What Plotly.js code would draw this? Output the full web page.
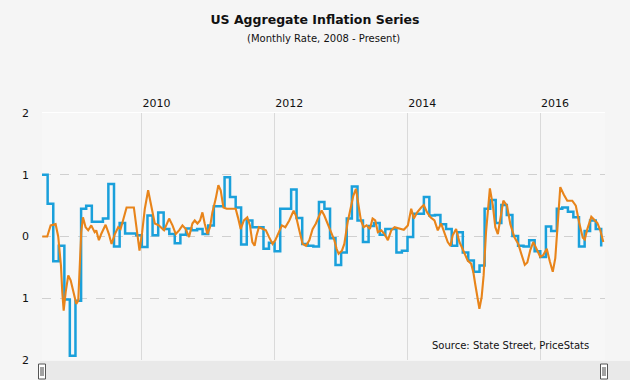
<!DOCTYPE html>
<html>
<head>
<meta charset="utf-8">
<script src="https://cdn.plot.ly/plotly-3.0.1.min.js"></script>
<style>html,body{margin:0;padding:0;background:#f5f5f5;}#chart{width:630px;height:380px;}</style>
</head>
<body>
<div id="chart"></div>
<script>
// Monthly CPI (NSA) % change, first month = Jun 2008; each value is drawn from the end of its month
const cpiFirstMonth = [2008, 6];
const cpiValues = [1.00, 0.53, -0.40, -0.15, -1.02, -1.93, -1.04, 0.45, 0.50, 0.24,
  0.24, 0.29, 0.85, -0.16, 0.22, 0.05, 0.05, 0.02, -0.17, 0.34,
  0.02, 0.39, 0.12, 0.04, -0.11, 0.03, 0.13, 0.10, 0.12, 0.04,
  0.18, 0.49, 0.49, 0.96, 0.64, 0.47, -0.13, 0.26, 0.15, 0.15,
  -0.20, -0.10, -0.24, 0.45, 0.45, 0.76, 0.30, -0.12, -0.15, -0.16,
  0.56, 0.45, -0.03, -0.46, -0.26, 0.29, 0.81, 0.26, -0.09, 0.17,
  0.22, 0.03, 0.12, 0.12, -0.26, -0.23, -0.01, 0.37, 0.37, 0.64,
  0.34, 0.35, 0.20, 0.12, -0.15, 0.07, -0.26, -0.39, -0.57, -0.47,
  0.45, 0.59, 0.22, 0.51, 0.35, 0.01, -0.15, -0.16, -0.06, -0.24,
  -0.33, 0.16, 0.09, 0.45, 0.47, 0.40, 0.31, -0.16, 0.09, 0.26,
  0.12, -0.16];

// PriceStats daily series (time as decimal year)
const psTime = [2008.501, 2008.576, 2008.627, 2008.702, 2008.741, 2008.782, 2008.802, 2008.823, 2008.853, 2008.892,
  2008.928, 2008.967, 2009.012, 2009.042, 2009.063, 2009.087, 2009.113, 2009.153, 2009.192, 2009.238,
  2009.289, 2009.313, 2009.353, 2009.388, 2009.454, 2009.504, 2009.544, 2009.594, 2009.644, 2009.680,
  2009.704, 2009.770, 2009.880, 2009.905, 2009.940, 2009.965, 2010.005, 2010.045, 2010.095, 2010.146,
  2010.195, 2010.256, 2010.286, 2010.335, 2010.411, 2010.462, 2010.511, 2010.561, 2010.612, 2010.662,
  2010.711, 2010.762, 2010.797, 2010.838, 2010.877, 2010.913, 2010.947, 2010.988, 2011.027, 2011.063,
  2011.113, 2011.153, 2011.188, 2011.229, 2011.278, 2011.338, 2011.414, 2011.448, 2011.489, 2011.538,
  2011.589, 2011.629, 2011.665, 2011.699, 2011.729, 2011.764, 2011.815, 2011.869, 2011.917, 2011.970,
  2012.011, 2012.060, 2012.110, 2012.161, 2012.221, 2012.286, 2012.320, 2012.371, 2012.421, 2012.471,
  2012.522, 2012.571, 2012.621, 2012.672, 2012.707, 2012.747, 2012.797, 2012.847, 2012.898, 2012.932,
  2012.962, 2013.012, 2013.048, 2013.098, 2013.147, 2013.183, 2013.223, 2013.263, 2013.298, 2013.338,
  2013.383, 2013.433, 2013.474, 2013.514, 2013.553, 2013.605, 2013.654, 2013.704, 2013.755, 2013.805,
  2013.880, 2013.944, 2014.005, 2014.056, 2014.095, 2014.146, 2014.206, 2014.245, 2014.296, 2014.346,
  2014.406, 2014.456, 2014.507, 2014.556, 2014.606, 2014.647, 2014.681, 2014.732, 2014.782, 2014.817,
  2014.857, 2014.907, 2014.958, 2014.992, 2015.023, 2015.057, 2015.083, 2015.117, 2015.147, 2015.183,
  2015.218, 2015.241, 2015.286, 2015.323, 2015.361, 2015.398, 2015.444, 2015.499, 2015.549, 2015.609,
  2015.669, 2015.714, 2015.767, 2015.805, 2015.850, 2015.895, 2015.947, 2016.000, 2016.045, 2016.098,
  2016.143, 2016.188, 2016.226, 2016.256, 2016.301, 2016.353, 2016.406, 2016.481, 2016.534, 2016.586,
  2016.639, 2016.669, 2016.707, 2016.767, 2016.812, 2016.857, 2016.902, 2016.947];
const psValues = [0.00, 0.00, 0.18, 0.20, 0.00, -0.47, -0.90, -1.20, -0.90, -0.63,
  -0.71, -0.90, -1.09, -1.04, -0.58, 0.07, 0.31, 0.15, 0.10, 0.18,
  0.07, 0.10, -0.06, 0.04, 0.19, 0.04, -0.12, 0.04, 0.15, 0.12,
  0.21, 0.47, 0.47, 0.26, -0.09, -0.23, 0.07, 0.45, 0.75, 0.45,
  0.21, 0.18, 0.15, 0.10, 0.29, 0.18, 0.04, 0.10, 0.18, 0.12,
  -0.01, 0.21, 0.26, 0.21, 0.26, 0.39, 0.21, 0.04, 0.15, 0.39,
  0.61, 0.83, 0.75, 0.47, 0.45, 0.45, 0.45, 0.31, 0.12, 0.26,
  0.31, 0.18, -0.09, -0.15, 0.02, 0.15, 0.12, 0.10, -0.01, -0.12,
  -0.06, 0.07, 0.18, 0.15, 0.26, 0.42, 0.34, 0.10, -0.12, -0.15,
  -0.06, 0.12, 0.21, 0.34, 0.42, 0.34, 0.21, 0.07, -0.06, -0.20,
  -0.28, -0.23, -0.12, 0.23, 0.47, 0.66, 0.77, 0.50, 0.26, 0.15,
  0.18, 0.12, 0.29, 0.26, 0.07, 0.10, 0.04, -0.06, 0.10, 0.15,
  0.13, 0.11, 0.18, 0.45, 0.29, 0.39, 0.47, 0.51, 0.39, 0.31,
  0.26, 0.10, 0.21, 0.07, -0.09, -0.15, 0.02, 0.12, -0.09, -0.17,
  -0.28, -0.39, -0.44, -0.58, -0.79, -1.01, -1.17, -0.98, -0.63, 0.07,
  0.56, 0.78, 0.50, 0.15, 0.04, 0.26, 0.58, 0.50, 0.20, -0.01,
  -0.12, -0.28, -0.46, -0.42, -0.22, -0.09, -0.20, -0.33, -0.30, -0.20,
  -0.40, -0.57, -0.35, 0.10, 0.80, 0.68, 0.58, 0.58, 0.50, 0.22,
  -0.02, -0.05, 0.12, 0.32, 0.27, 0.22, 0.10, -0.09];

const yTickVals = [2, 1, 0, -1, -2];
const yTickText = ['2', '1', '0', '1', '2'];
const titleText = 'US Aggregate Inflation Series';
const subtitleText = '(Monthly Rate, 2008 - Present)';
const sourceText = 'Source: State Street, PriceStats';

function pad(n){return (n<10?'0':'')+n;}
function isoDate(d){return d.getUTCFullYear()+'-'+pad(d.getUTCMonth()+1)+'-'+pad(d.getUTCDate())+' '+pad(d.getUTCHours())+':00';}
// value for month m is drawn starting at the first day of month m+1
const cpiDates = cpiValues.map((v,i)=>isoDate(new Date(Date.UTC(cpiFirstMonth[0], cpiFirstMonth[1]-1+1+i, 1))));
function decYearToDate(t){
  const y = Math.floor(t);
  const a = Date.UTC(y,0,1), b = Date.UTC(y+1,0,1);
  return isoDate(new Date(a + (t-y)*(b-a)));
}
const psDates = psTime.map(decYearToDate);

const FONT = 'DejaVu Sans, Verdana, sans-serif';

const traces = [
  {x: cpiDates, y: cpiValues, type: 'scatter', mode: 'lines', line: {shape: 'hv', color: '#1aa0db', width: 2.5}, hoverinfo: 'skip', name: 'CPI'},
  {x: psDates, y: psValues, type: 'scatter', mode: 'lines', line: {color: '#e8841a', width: 2.1}, hoverinfo: 'skip', name: 'PriceStats'}
];

function px2x(p){return (p-42)/563;}
function px2y(p){return (360-p)/247;}

const shapes = [
  {type:'rect', xref:'paper', yref:'paper', x0:px2x(40), x1:px2x(632), y0:px2y(381), y1:px2y(361), fillcolor:'#e9e9e9', line:{width:0}, layer:'below'},
  {type:'line', xref:'paper', yref:'y', x0:0, x1:1, y0:0, y1:0, line:{color:'#8a8a8a', width:1, dash:'dash'}, layer:'below'},
  {type:'rect', xref:'paper', yref:'paper', x0:px2x(38.5), x1:px2x(45.5), y0:px2y(379), y1:px2y(364), fillcolor:'#ffffff', line:{color:'#555', width:1}},
  {type:'line', xref:'paper', yref:'paper', x0:px2x(41), x1:px2x(41), y0:px2y(376), y1:px2y(367), line:{color:'#444', width:1}},
  {type:'line', xref:'paper', yref:'paper', x0:px2x(43), x1:px2x(43), y0:px2y(376), y1:px2y(367), line:{color:'#444', width:1}},
  {type:'rect', xref:'paper', yref:'paper', x0:px2x(600.5), x1:px2x(607.5), y0:px2y(379), y1:px2y(364), fillcolor:'#ffffff', line:{color:'#555', width:1}},
  {type:'line', xref:'paper', yref:'paper', x0:px2x(603), x1:px2x(603), y0:px2y(376), y1:px2y(367), line:{color:'#444', width:1}},
  {type:'line', xref:'paper', yref:'paper', x0:px2x(605), x1:px2x(605), y0:px2y(376), y1:px2y(367), line:{color:'#444', width:1}}
];

const layout = {
  width: 630, height: 380,
  margin: {l: 42, r: 25, t: 113, b: 20, pad: 0},
  paper_bgcolor: '#f5f5f5', plot_bgcolor: '#f7f7f7',
  font: {family: FONT, size: 11, color: '#111'},
  showlegend: false,
  title: {text: '<b>'+titleText+'</b>', font: {family: FONT, size: 12.5, color: '#111'}, x: 0.5, xanchor: 'center', y: 1-20/380, yanchor: 'middle', yref: 'container'},
  xaxis: {
    type: 'date', range: ['2008-07-01', '2016-12-22'], side: 'top',
    tick0: '2010-01-01', dtick: 'M24', tickformat: '%Y',
    ticklabelposition: 'outside right',
    showgrid: true, gridcolor: '#dadada', gridwidth: 1,
    showline: true, linecolor: '#ffffff', linewidth: 1.5,
    ticks: '', zeroline: false, fixedrange: true,
    tickfont: {family: FONT, size: 11, color: '#111'}
  },
  yaxis: {
    range: [-2, 2], tickmode: 'array', tickvals: yTickVals, ticktext: yTickText,
    showgrid: true, gridcolor: '#d0d0d0', griddash: 'dash', gridwidth: 1,
    zeroline: false, showline: false, ticks: '', ticklabelstandoff: 12, fixedrange: true,
    tickfont: {family: FONT, size: 11, color: '#111'}
  },
  shapes: shapes,
  annotations: [
    {text: subtitleText, xref: 'paper', yref: 'paper', x: 0.5, y: px2y(38.5), xanchor: 'center', yanchor: 'middle', showarrow: false, font: {family: FONT, size: 10, color: '#111'}},
    {text: sourceText, xref: 'paper', yref: 'paper', x: px2x(591), y: px2y(345), xanchor: 'right', yanchor: 'middle', showarrow: false, font: {family: FONT, size: 10, color: '#111'}}
  ]
};

Plotly.newPlot('chart', traces, layout, {displayModeBar: false, staticPlot: true});
</script>
</body>
</html>
